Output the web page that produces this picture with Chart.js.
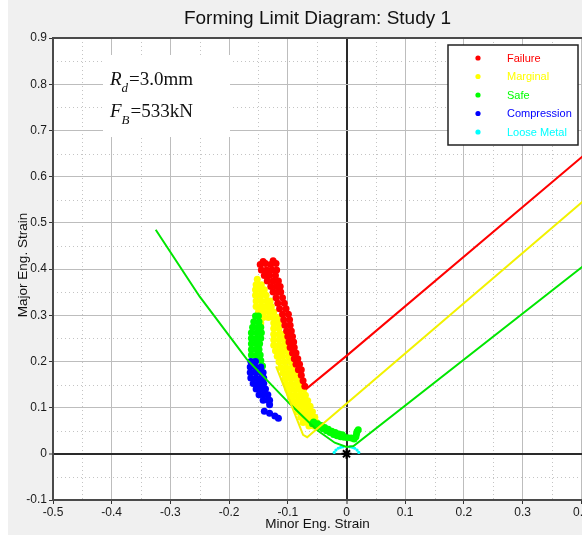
<!DOCTYPE html>
<html><head><meta charset="utf-8">
<script src="https://cdn.jsdelivr.net/npm/chart.js@4.4.1/dist/chart.umd.min.js"></script>
<style>
html,body{margin:0;padding:0;overflow:hidden;background:#fff;width:582px;height:535px}
#wrap{position:absolute;left:0;top:0;width:700px;height:535px}
</style></head>
<body><div id="wrap"><canvas id="c" width="700" height="535"></canvas></div>
<script>
// ---------- axis ticks ----------
const xTickValues = [-0.5,-0.4,-0.3,-0.2,-0.1,0,0.1,0.2,0.3,0.4,0.5];
const yTickValues = [-0.1,0,0.1,0.2,0.3,0.4,0.5,0.6,0.7,0.8,0.9];
const xMinorGrid = [-0.45,-0.35,-0.25,-0.15,-0.05,0.05,0.15,0.25,0.35,0.45];
const yMinorGrid = [-0.05,0.05,0.15,0.25,0.35,0.45,0.55,0.65,0.75,0.85];

// ---------- text ----------
const chartTitle = 'Forming Limit Diagram: Study 1';
const xTitle = 'Minor Eng. Strain';
const yTitle = 'Major Eng. Strain';
const seriesNames = ['Failure','Marginal','Safe','Compression','Loose Metal'];

// ---------- forming limit curves [minor, major] ----------
const failureCurve = [[-0.069,0.140],[0.0,0.212],[0.41,0.652]];
const marginalCurve = [[-0.120,0.189],[-0.074,0.041],[-0.067,0.036],[0.41,0.554]];
const safeCurve = [[-0.325,0.485],[-0.25,0.340],[-0.17,0.205],[-0.095,0.106],[-0.051,0.052],[-0.02,0.024],[0.0,0.015],[0.012,0.017],[0.41,0.413]];

// ---------- measured strain points [minor, major] ----------
const failurePts = [
[-0.147,0.410],[-0.138,0.412],[-0.129,0.410],[-0.120,0.412],[-0.142,0.416],[-0.125,0.418],
[-0.145,0.398],[-0.136,0.398],[-0.127,0.398],[-0.119,0.398],
[-0.140,0.386],[-0.131,0.386],[-0.121,0.386],
[-0.135,0.374],[-0.125,0.374],[-0.116,0.374],
[-0.129,0.362],[-0.120,0.362],[-0.113,0.362],
[-0.125,0.350],[-0.116,0.350],[-0.112,0.350],
[-0.120,0.338],[-0.109,0.338],
[-0.117,0.326],[-0.106,0.326],
[-0.114,0.314],[-0.103,0.314],
[-0.109,0.302],[-0.099,0.302],
[-0.107,0.290],[-0.097,0.290],
[-0.105,0.278],[-0.096,0.278],
[-0.102,0.266],[-0.094,0.266],
[-0.100,0.254],[-0.092,0.254],
[-0.098,0.242],[-0.090,0.242],
[-0.096,0.230],[-0.089,0.230],
[-0.092,0.218],[-0.086,0.218],
[-0.089,0.206],[-0.083,0.206],
[-0.086,0.194],[-0.080,0.194],
[-0.082,0.182],[-0.077,0.182],
[-0.077,0.170],[-0.074,0.158],[-0.071,0.146]
];
const marginalPts = [
[-0.152,0.378],
[-0.154,0.366],[-0.145,0.366],
[-0.155,0.355],[-0.147,0.355],[-0.140,0.355],
[-0.155,0.343],[-0.146,0.343],[-0.137,0.343],
[-0.154,0.331],[-0.145,0.331],[-0.136,0.331],[-0.130,0.331],
[-0.154,0.319],[-0.145,0.319],[-0.136,0.319],[-0.128,0.319],
[-0.150,0.307],[-0.141,0.307],[-0.132,0.307],[-0.124,0.307],
[-0.142,0.295],[-0.133,0.295],[-0.124,0.295],[-0.118,0.295],
[-0.146,0.283],[-0.124,0.283],[-0.116,0.283],
[-0.124,0.271],[-0.115,0.271],
[-0.124,0.259],[-0.115,0.259],[-0.108,0.259],
[-0.124,0.247],[-0.115,0.247],[-0.107,0.247],
[-0.124,0.235],[-0.115,0.235],[-0.106,0.235],
[-0.121,0.223],[-0.112,0.223],[-0.103,0.223],
[-0.118,0.211],[-0.109,0.211],[-0.099,0.211],
[-0.115,0.199],[-0.106,0.199],[-0.096,0.199],
[-0.112,0.187],[-0.103,0.187],[-0.093,0.187],
[-0.108,0.175],[-0.099,0.175],[-0.091,0.175],[-0.085,0.175],
[-0.105,0.163],[-0.096,0.163],[-0.087,0.163],[-0.080,0.163],
[-0.103,0.151],[-0.094,0.151],[-0.085,0.151],[-0.077,0.151],
[-0.100,0.139],[-0.091,0.139],[-0.082,0.139],[-0.073,0.139],
[-0.096,0.127],[-0.087,0.127],[-0.078,0.127],[-0.070,0.127],
[-0.092,0.115],[-0.083,0.115],[-0.074,0.115],[-0.066,0.115],
[-0.088,0.103],[-0.079,0.103],[-0.070,0.103],[-0.062,0.103],
[-0.083,0.091],[-0.074,0.091],[-0.066,0.091],[-0.058,0.091],
[-0.078,0.079],[-0.070,0.079],[-0.062,0.079],[-0.054,0.079],
[-0.074,0.068],[-0.066,0.068],[-0.058,0.068],[-0.051,0.068],
[-0.064,0.060],[-0.056,0.060]
];
const safePts = [
[-0.155,0.298],[-0.150,0.298],
[-0.158,0.286],[-0.149,0.286],
[-0.160,0.274],[-0.151,0.274],[-0.146,0.274],
[-0.162,0.262],[-0.153,0.262],[-0.145,0.262],
[-0.162,0.250],[-0.153,0.250],[-0.146,0.250],
[-0.162,0.238],[-0.154,0.238],[-0.148,0.238],
[-0.162,0.226],[-0.153,0.226],[-0.149,0.226],
[-0.162,0.214],[-0.153,0.214],[-0.147,0.214],
[-0.155,0.202],[-0.146,0.202],
[-0.143,0.190],
[-0.058,0.065],[-0.052,0.061],[-0.046,0.058],[-0.040,0.054],[-0.034,0.050],[-0.028,0.046],
[-0.022,0.042],[-0.016,0.039],[-0.010,0.037],[-0.004,0.036],[0.002,0.035],[0.008,0.034],[0.013,0.032],
[-0.056,0.069],[-0.049,0.065],[-0.043,0.061],[-0.037,0.057],[-0.031,0.053],[-0.025,0.049],
[-0.019,0.046],[-0.013,0.043],[-0.007,0.041],
[0.016,0.037],[0.017,0.043],[0.018,0.048],[0.020,0.052]
];
const compressionPts = [
[-0.163,0.200],[-0.155,0.200],
[-0.164,0.188],[-0.155,0.188],[-0.146,0.188],
[-0.164,0.176],[-0.155,0.176],[-0.146,0.176],[-0.142,0.176],
[-0.163,0.164],[-0.154,0.164],[-0.145,0.164],[-0.141,0.164],
[-0.159,0.152],[-0.150,0.152],[-0.141,0.152],
[-0.154,0.140],[-0.146,0.140],[-0.138,0.140],
[-0.149,0.128],[-0.141,0.128],[-0.134,0.128],
[-0.142,0.116],[-0.134,0.116],[-0.131,0.116],
[-0.131,0.106],
[-0.140,0.092],[-0.131,0.088],[-0.122,0.082],[-0.116,0.077]
];
const looseMetalPts = [
[-0.021,0.003],[-0.018,0.008],[-0.014,0.012],[-0.010,0.014],[-0.006,0.015],
[0.006,0.015],[0.010,0.014],[0.014,0.012],[0.018,0.008],[0.021,0.003]
];
const originPt = [[0,0]];

// ---------- styling ----------
const RED='#ff0000', YEL='#ffff00', GRN='#00ff00', BLU='#0000ff', CYA='#00ffff';
const toXY = a => a.map(p => ({x:p[0], y:p[1]}));
const FONT = "'Liberation Sans', Arial, sans-serif";
const SERIF = "'Liberation Serif', 'Times New Roman', serif";
const fmt = v => { const r = Math.round(v*10)/10; return (r===0) ? '0' : r.toFixed(1); };

function cloud(label, pts, color, order, radius){
  return {type:'scatter', label, data:toXY(pts), backgroundColor:color, borderColor:color,
    borderWidth:0, pointRadius:radius, pointHoverRadius:radius, order, legendEntry:true};
}
function curve(pts, color, order){
  return {type:'line', label:'', data:toXY(pts), borderColor:color, borderWidth:2,
    pointRadius:0, fill:false, tension:0, order, showLine:true};
}

const datasets = [
  cloud(seriesNames[0], failurePts, RED, 2, 3.5),
  cloud(seriesNames[1], marginalPts, YEL, 5, 3.5),
  cloud(seriesNames[2], safePts, GRN, 4, 3.5),
  cloud(seriesNames[3], compressionPts, BLU, 3, 3.5),
  cloud(seriesNames[4], looseMetalPts, CYA, 1, 1.6),
  curve(failureCurve, RED, 0),
  curve(marginalCurve, '#f2f200', 0),
  curve(safeCurve, '#00e600', 0),
  {type:'scatter', label:'', data:toXY(originPt), pointStyle:'star', pointRadius:5,
   borderColor:'#000', backgroundColor:'#000', borderWidth:2, order:0}
];

const bgPlugin = {
  id:'bg',
  beforeDraw(chart){
    const c = chart.ctx, a = chart.chartArea;
    c.save();
    c.fillStyle = '#ffffff'; c.fillRect(0,0,chart.width,chart.height);
    c.fillStyle = '#f0f0f0'; c.fillRect(8,0,chart.width-8,chart.height);
    c.fillStyle = '#ffffff'; c.fillRect(a.left,a.top,a.right-a.left,a.bottom-a.top);
    // minor dotted grid
    const xs = chart.scales.x, ys = chart.scales.y;
    c.strokeStyle = '#c4c4c4'; c.lineWidth = 1; c.setLineDash([1,3]);
    xMinorGrid.forEach(v => { const px = Math.round(xs.getPixelForValue(v))+0.5;
      c.beginPath(); c.moveTo(px,a.top); c.lineTo(px,a.bottom); c.stroke(); });
    yMinorGrid.forEach(v => { const py = Math.round(ys.getPixelForValue(v))+0.5;
      c.beginPath(); c.moveTo(a.left,py); c.lineTo(a.right,py); c.stroke(); });
    c.restore();
  }
};

const overlayPlugin = {
  id:'overlay',
  afterDraw(chart){
    const c = chart.ctx, a = chart.chartArea;
    c.save();
    // frame top / right
    c.strokeStyle = '#4a4a4a'; c.lineWidth = 2;
    c.beginPath(); c.moveTo(a.left,a.top); c.lineTo(a.right,a.top); c.lineTo(a.right,a.bottom); c.stroke();
    // annotation box
    c.fillStyle = '#ffffff'; c.fillRect(103,55,127,82);
    c.fillStyle = '#111';
    c.textBaseline = 'alphabetic'; c.textAlign = 'left';
    function sub(x, y, main, s, rest){
      c.font = 'italic 19px ' + SERIF; c.fillText(main, x, y); x += c.measureText(main).width;
      c.font = 'italic 13px ' + SERIF; c.fillText(s, x, y+7); x += c.measureText(s).width + 1;
      c.font = '19px ' + SERIF; c.fillText(rest, x, y);
    }
    sub(110, 85, 'R', 'd', '=3.0mm');
    sub(110, 117, 'F', 'B', '=533kN');
    // legend box
    c.fillStyle = '#ffffff'; c.fillRect(448,45,130,100);
    c.strokeStyle = '#222'; c.lineWidth = 1.5; c.strokeRect(448,45,130,100);
    const entries = chart.data.datasets.filter(d => d.legendEntry);
    c.font = '11px ' + FONT; c.textBaseline = 'middle';
    entries.forEach((d,i) => {
      const y = 58 + i*18.5;
      c.fillStyle = d.backgroundColor;
      c.beginPath(); c.arc(478, y, 2.6, 0, Math.PI*2); c.fill();
      c.fillText(d.label, 507, y+0.5);
    });
    // titles
    c.fillStyle = '#111'; c.textAlign = 'center'; c.textBaseline = 'alphabetic';
    c.font = '19px ' + FONT; c.fillText(chartTitle, 317.5, 24);
    c.font = '13.5px ' + FONT; c.fillText(xTitle, 317.5, 528);
    c.translate(26.5, 265); c.rotate(-Math.PI/2);
    c.fillText(yTitle, 0, 0);
    c.restore();
  }
};

const gridColor = ctx => (ctx.tick && ctx.tick.value === 0) ? '#2a2a2a' : '#bdbdbd';
const gridWidth = ctx => (ctx.tick && ctx.tick.value === 0) ? 2 : 1;

new Chart(document.getElementById('c').getContext('2d'), {
  type:'scatter',
  data:{datasets},
  options:{
    responsive:false, animation:false, devicePixelRatio:1, events:[],
    layout:{padding:{left:0, top:38, right:60, bottom:0}},
    plugins:{legend:{display:false}, title:{display:false}, tooltip:{enabled:false}},
    scales:{
      x:{type:'linear', min:-0.5, max:0.5,
        afterBuildTicks: s => { s.ticks = xTickValues.map(v => ({value:v})); },
        afterFit: s => { s.height = 35; },
        ticks:{callback:fmt, autoSkip:false, maxRotation:0, padding:1, color:'#1a1a1a', font:{family:FONT, size:12}},
        grid:{color:gridColor, lineWidth:gridWidth, tickLength:4, tickColor:'#333', tickWidth:1},
        border:{color:'#4a4a4a', width:2}
      },
      y:{type:'linear', min:-0.1, max:0.9,
        afterBuildTicks: s => { s.ticks = yTickValues.map(v => ({value:v})); },
        afterFit: s => { s.width = 53; },
        ticks:{callback:fmt, autoSkip:false, padding:2, color:'#1a1a1a', font:{family:FONT, size:12}},
        grid:{color:gridColor, lineWidth:gridWidth, tickLength:4, tickColor:'#333', tickWidth:1},
        border:{color:'#4a4a4a', width:2}
      }
    }
  },
  plugins:[bgPlugin, overlayPlugin]
});
</script>
</body></html>
